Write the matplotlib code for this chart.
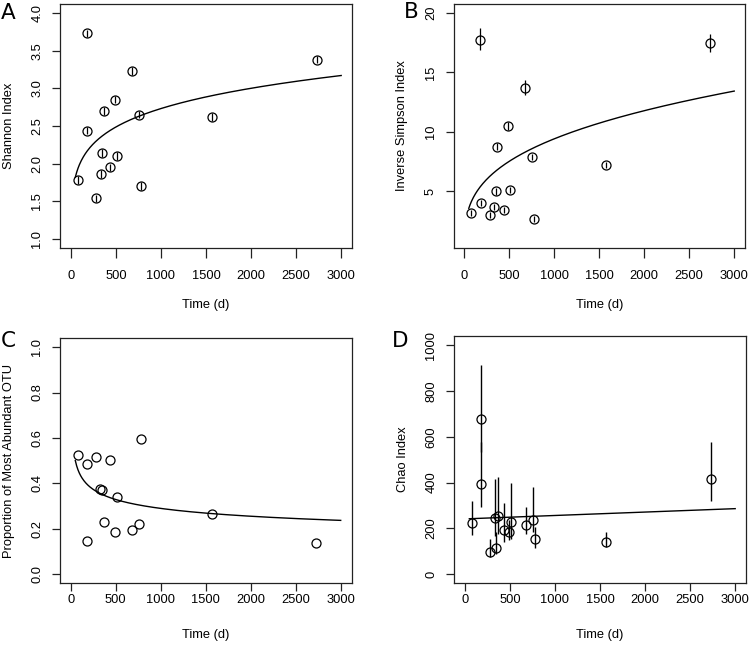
import numpy as np
import matplotlib
matplotlib.use("Agg")
import matplotlib.pyplot as plt

plt.rcParams['font.family'] = ['Liberation Sans', 'DejaVu Sans']

# ---- data ----
time_d = [78, 178, 182, 282, 330, 349, 367, 438, 486, 508, 675, 753, 775, 1572, 2729]

shannon = [1.78, 3.73, 2.44, 1.54, 1.86, 2.14, 2.70, 1.95, 2.85, 2.10, 3.23, 2.65, 1.70, 2.62, 3.38]
shannon_err = [0.05] * 15

invsimpson = [3.19, 17.76, 4.00, 3.05, 3.67, 5.00, 8.74, 3.42, 10.52, 5.11, 13.72, 7.87, 2.66, 7.20, 17.48]
invsimpson_lo = [2.95, 16.87, 3.75, 2.80, 3.42, 4.72, 8.44, 3.17, 10.20, 4.83, 13.08, 7.60, 2.42, 6.95, 16.76]
invsimpson_hi = [3.43, 18.70, 4.25, 3.30, 3.92, 5.28, 9.04, 3.67, 10.84, 5.39, 14.39, 8.14, 2.90, 7.45, 18.20]

prop_top_otu = [0.525, 0.147, 0.484, 0.516, 0.377, 0.370, 0.228, 0.504, 0.186, 0.338, 0.195, 0.221, 0.596, 0.267, 0.137]

chao = [223, 679, 394, 98, 245, 116, 253, 193, 183, 227, 215, 237, 154, 142, 415]
chao_lo = [172, 535, 293, 76, 165, 88, 176, 142, 148, 155, 176, 185, 112, 120, 319]
chao_hi = [319, 912, 579, 154, 416, 183, 425, 312, 235, 399, 292, 380, 205, 186, 579]

# fitted model coefficients (y = a * t^b ; D: y = c0 + c1 * t)
fit_A = (1.0706, 0.1356)
fit_B = (1.012, 0.323)
fit_C = (1.0227, -0.1826)
fit_D = (241.25, 0.01492)
fit_range = (50, 3000)

x_ticks = [0, 500, 1000, 1500, 2000, 2500, 3000]

W, H = 750, 647
FS = 9.3
fig = plt.figure(figsize=(W / 100, H / 100), dpi=100)


def make_ax(left, top, right, bottom):
    return fig.add_axes([left / W, 1 - bottom / H, (right - left) / W, (bottom - top) / H])


axA = make_ax(60, 4, 352, 248)
axB = make_ax(453.5, 4, 745, 248)
axC = make_ax(60, 338, 351.5, 583.3)
axD = make_ax(454, 336, 746, 583.3)

t = np.asarray(time_d, float)
tc = np.linspace(fit_range[0], fit_range[1], 400)

mk = dict(marker='o', mfc='none', mec='black', ms=6.5, mew=0.9, ls='none')


def style(ax, ylim, yticks, ylabels, ylab, top_row):
    ax.set_xlim(-120, 3120)
    ax.set_ylim(*ylim)
    ax.set_xticks(x_ticks)
    ax.set_xticklabels([str(v) for v in x_ticks], fontsize=FS)
    ax.set_yticks(yticks)
    ax.set_yticklabels(ylabels, fontsize=FS, rotation=90, va='center')
    for s in ax.spines.values():
        s.set_color('#222222')
        s.set_linewidth(0.9)
    ax.tick_params(axis='x', length=7 if top_row else 6, width=0.9, color='#222222',
                   pad=9 if top_row else 2)
    ax.tick_params(axis='y', length=6, width=0.9, color='#222222', pad=6)
    ax.set_xlabel('Time (d)', fontsize=FS, labelpad=12 if top_row else 16)
    ax.set_ylabel(ylab, fontsize=FS, labelpad=12)


# A
axA.errorbar(t, shannon, yerr=shannon_err, fmt='none', ecolor='black', elinewidth=0.9)
axA.plot(t, shannon, **mk)
axA.plot(tc, fit_A[0] * tc ** fit_A[1], color='black', lw=1.0)
style(axA, (0.88, 4.12), [1.0, 1.5, 2.0, 2.5, 3.0, 3.5, 4.0],
      ['1.0', '1.5', '2.0', '2.5', '3.0', '3.5', '4.0'], 'Shannon Index', True)

# B
ib = np.asarray(invsimpson)
axB.errorbar(t, ib, yerr=[ib - np.asarray(invsimpson_lo), np.asarray(invsimpson_hi) - ib],
             fmt='none', ecolor='black', elinewidth=0.9)
axB.plot(t, ib, **mk)
axB.plot(tc, fit_B[0] * tc ** fit_B[1], color='black', lw=1.0)
style(axB, (0.24, 20.76), [5, 10, 15, 20], ['5', '10', '15', '20'], 'Inverse Simpson Index', True)

# C
axC.plot(t, prop_top_otu, **mk)
axC.plot(tc, fit_C[0] * tc ** fit_C[1], color='black', lw=1.0)
style(axC, (-0.04, 1.04), [0.0, 0.2, 0.4, 0.6, 0.8, 1.0],
      ['0.0', '0.2', '0.4', '0.6', '0.8', '1.0'], 'Proportion of Most Abundant OTU', False)

# D
ch = np.asarray(chao, float)
axD.errorbar(t, ch, yerr=[ch - np.asarray(chao_lo), np.asarray(chao_hi) - ch],
             fmt='none', ecolor='black', elinewidth=1.0)
axD.plot(t, ch, **mk)
axD.plot(tc, fit_D[0] + fit_D[1] * tc, color='black', lw=1.0)
style(axD, (-40, 1040), [0, 200, 400, 600, 800, 1000],
      ['0', '200', '400', '600', '800', '1000'], 'Chao Index', False)

# panel letters
for letter, (px, py) in zip('ABCD', [(1, 13), (404, 12), (1, 341), (392, 341)]):
    fig.text(px / W, 1 - py / H, letter, fontsize=15.5, family='DejaVu Sans',
             ha='left', va='center')

fig.savefig('out.png', dpi=100)
